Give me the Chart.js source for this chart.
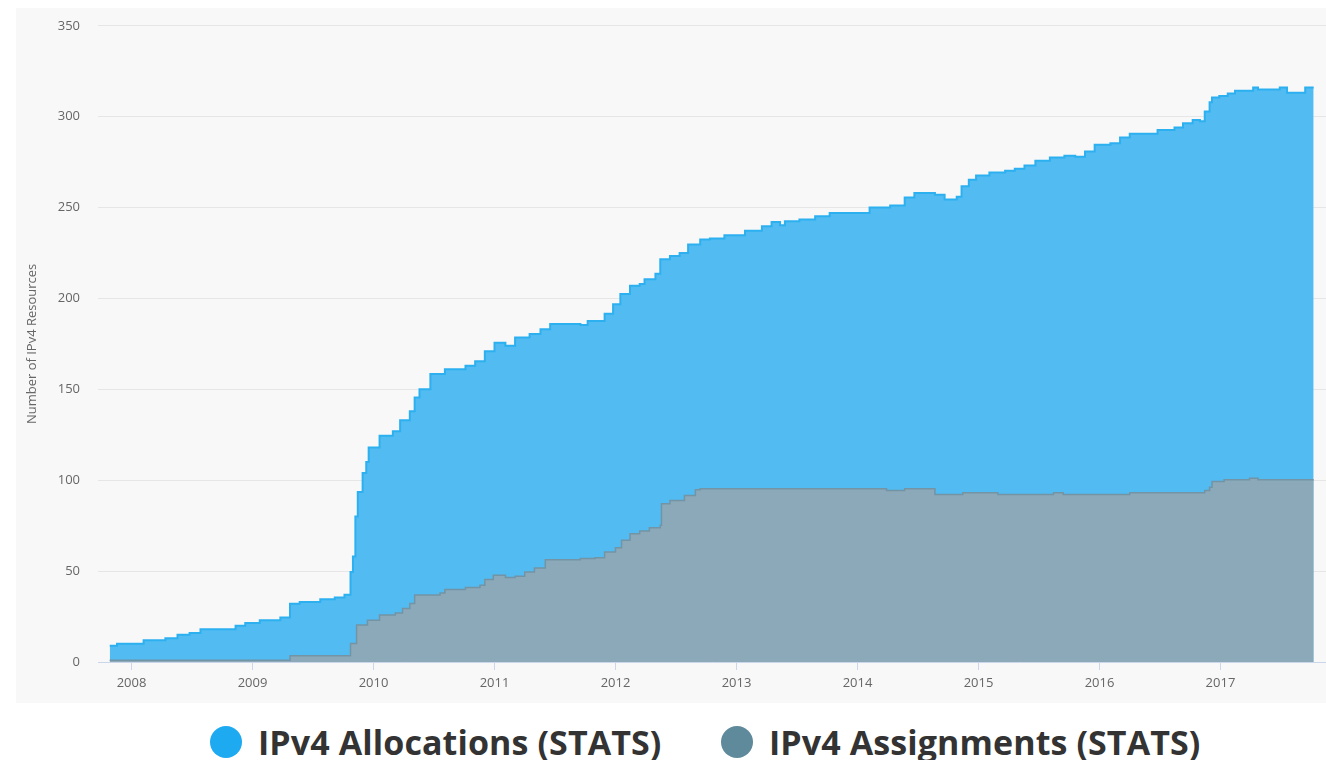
<!DOCTYPE html>
<html>
<head>
<meta charset="utf-8">
<script src="https://cdn.jsdelivr.net/npm/chart.js@4"></script>
<style>
  body { margin: 0; background: #fff; width: 1326px; height: 760px; overflow: hidden; font-family: "Open Sans", sans-serif; }
  #wrap { position: absolute; left: 0; top: 0; width: 1326px; height: 703px; }
  .legend { position: absolute; top: 720px; height: 44px; display: flex; align-items: center; font-weight: bold; font-size: 34px; color: #333; white-space: nowrap; letter-spacing: 0.1px; }
  .legend .dot { width: 32px; height: 32px; border-radius: 50%; margin-right: 16px; }
</style>
</head>
<body>
<div id="wrap"><canvas id="chart"></canvas></div>
<div class="legend" style="left:210px"><span class="dot" style="background:#1eaaf1"></span>IPv4 Allocations (STATS)</div>
<div class="legend" style="left:721px"><span class="dot" style="background:#5f8a9c"></span>IPv4 Assignments (STATS)</div>
<script>
// IPv4 resources over time (decimal years)

const allocYears = [2007.82, 2007.88, 2008.10, 2008.28, 2008.38, 2008.48, 2008.57, 2008.86, 2008.94, 2009.06,
  2009.23, 2009.31, 2009.39, 2009.56, 2009.68, 2009.76, 2009.81, 2009.83, 2009.85, 2009.87,
  2009.91, 2009.94, 2009.96, 2010.05, 2010.16, 2010.22, 2010.30, 2010.34, 2010.38, 2010.47,
  2010.59, 2010.76, 2010.84, 2010.92, 2011.00, 2011.09, 2011.17, 2011.29, 2011.38, 2011.46,
  2011.71, 2011.77, 2011.91, 2011.98, 2012.04, 2012.12, 2012.20, 2012.24, 2012.33, 2012.37,
  2012.45, 2012.53, 2012.60, 2012.70, 2012.78, 2012.90, 2013.07, 2013.21, 2013.29, 2013.36,
  2013.40, 2013.52, 2013.65, 2013.77, 2014.10, 2014.27, 2014.39, 2014.47, 2014.64, 2014.72,
  2014.82, 2014.86, 2014.92, 2014.98, 2015.09, 2015.22, 2015.30, 2015.38, 2015.47, 2015.59,
  2015.71, 2015.80, 2015.88, 2015.96, 2016.09, 2016.17, 2016.25, 2016.48, 2016.62, 2016.69,
  2016.77, 2016.83, 2016.87, 2016.91, 2016.93, 2016.99, 2017.06, 2017.12, 2017.27, 2017.31,
  2017.49, 2017.55, 2017.70, 2017.77];
const allocValues = [9, 10, 12, 13, 15, 16, 18, 20, 21.5, 23,
  24.5, 32, 33, 34.5, 35.5, 37, 49.5, 58, 80, 93.5,
  104, 110, 118, 124.5, 127, 133, 138, 145.5, 150, 158.5,
  161, 163, 165.5, 171, 175.7, 174, 178.5, 180.5, 183, 186,
  185.4, 187.6, 191.6, 196.8, 202.4, 207, 208, 210.6, 213.6, 221.6,
  223.3, 225, 229.7, 232.4, 233, 234.8, 237.3, 239.7, 242, 240.3,
  242.5, 243.4, 245.2, 247, 250, 251.2, 255.6, 258, 257, 254.4,
  256, 261.7, 265.3, 267.7, 269.3, 270.3, 271.4, 273.2, 275.8, 277.6,
  278.5, 278, 280.9, 284.5, 285.4, 288.5, 290.6, 292.7, 294, 296.4,
  298.2, 297.5, 302.8, 308, 310.5, 311.4, 312.8, 314.2, 316, 315,
  316, 313.2, 316, 316];

const assignYears = [2007.82, 2009.31, 2009.81, 2009.86, 2009.95, 2010.05, 2010.18, 2010.24, 2010.30, 2010.34,
  2010.55, 2010.59, 2010.76, 2010.88, 2010.92, 2010.99, 2011.09, 2011.17, 2011.25, 2011.33,
  2011.42, 2011.71, 2011.83, 2011.91, 2012.00, 2012.05, 2012.12, 2012.20, 2012.28, 2012.37,
  2012.38, 2012.45, 2012.57, 2012.66, 2012.70, 2014.24, 2014.39, 2014.64, 2014.87, 2015.16,
  2015.62, 2015.70, 2016.25, 2016.87, 2016.91, 2016.93, 2017.03, 2017.24, 2017.31, 2017.77];
const assignValues = [1, 3.5, 10.2, 20.3, 23, 25.8, 27, 29.4, 32.2, 36.8,
  38, 39.9, 41, 42.2, 45.4, 47.7, 46.5, 47.2, 49.5, 51.7,
  56.3, 56.9, 57.4, 60.5, 62.9, 67, 70.6, 72, 73.9, 75.2,
  87, 88.9, 91.6, 94.7, 95.3, 94.3, 95.3, 92.2, 93.1, 92.2,
  93.1, 92.2, 93.1, 94.3, 96.2, 99.3, 100.2, 101.1, 100.2, 100.2];

const yearTicks = [2008, 2009, 2010, 2011, 2012, 2013, 2014, 2015, 2016, 2017];

function points(xs, ys) {
  return xs.map((x, i) => ({ x: x, y: ys[i] }));
}

// light grey panel behind the plot (Highcharts style)
const panelBg = {
  id: "panelBg",
  beforeDraw(chart) {
    const ctx = chart.ctx;
    ctx.save();
    ctx.fillStyle = "#f8f8f8";
    ctx.fillRect(16, 8, chart.width - 16, chart.height - 8);
    ctx.restore();
  }
};

new Chart(document.getElementById("chart"), {
  type: "line",
  data: {
    datasets: [
      {
        label: "IPv4 Allocations (STATS)",
        data: points(allocYears, allocValues),
        borderColor: "#2cb0ef",
        backgroundColor: "#52bbf2",
        borderWidth: 2,
        fill: "origin",
        stepped: true,
        pointRadius: 0,
        order: 1
      },
      {
        label: "IPv4 Assignments (STATS)",
        data: points(assignYears, assignValues),
        borderColor: "#7394a4",
        backgroundColor: "#8ca9b9",
        borderWidth: 1.5,
        fill: "origin",
        stepped: true,
        pointRadius: 0,
        order: 0
      }
    ]
  },
  options: {
    responsive: true,
    maintainAspectRatio: false,
    animation: false,
    layout: { padding: { top: 24, right: 0, bottom: 0, left: 0 } },
    plugins: {
      legend: { display: false },
      tooltip: { enabled: false }
    },
    scales: {
      x: {
        type: "linear",
        min: 2007.723,
        max: 2017.872,
        afterBuildTicks: scale => { scale.ticks = yearTicks.map(v => ({ value: v })); },
        afterFit: scale => { scale.height = 41; },
        ticks: {
          autoSkip: false,
          maxRotation: 0,
          padding: 5,
          color: "#666",
          font: { family: "Open Sans", size: 13 },
          callback: v => String(v)
        },
        grid: { drawOnChartArea: false, drawTicks: true, tickLength: 8, color: "#ccd6eb" },
        border: { color: "#ccd6eb", width: 1 }
      },
      y: {
        min: 0,
        max: 350,
        afterFit: scale => { scale.width = 98; },
        ticks: {
          stepSize: 50,
          padding: 18,
          color: "#666",
          font: { family: "Open Sans", size: 13 }
        },
        grid: { color: "#e6e6e6", drawTicks: false },
        border: { display: false },
        title: {
          display: true,
          text: "Number of IPv4 Resources",
          color: "#666",
          font: { family: "Open Sans", size: 13 },
          padding: { top: 24, bottom: 0 }
        }
      }
    }
  },
  plugins: [panelBg]
});
</script>
</body>
</html>
